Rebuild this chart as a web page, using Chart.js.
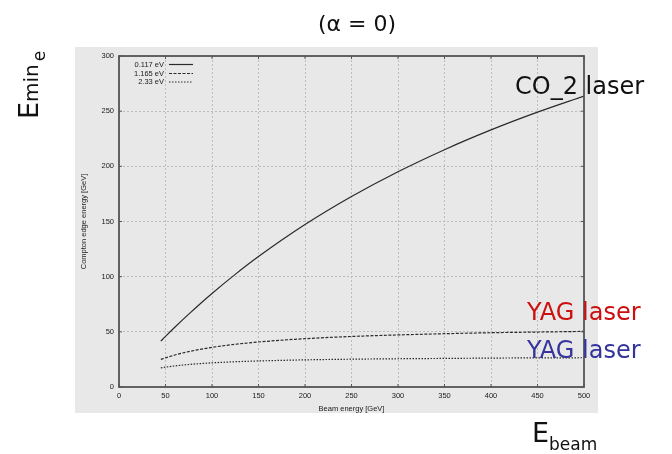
<!DOCTYPE html>
<html>
<head>
<meta charset="utf-8">
<script src="https://cdn.jsdelivr.net/npm/chart.js@4/dist/chart.umd.min.js"></script>
<style>
  body { margin: 0; background: #fff; }
  #wrap { position: relative; width: 672px; height: 454px; overflow: hidden; }
  .note { position: absolute; font-family: "DejaVu Sans", sans-serif; line-height: 1; white-space: nowrap; color: #111; }
  .note span { line-height: 1; }
</style>
</head>
<body>
<div id="wrap">
  <canvas id="chart-edge" width="672" height="454"></canvas>
  <div class="note" style="left:318px;top:13px;font-size:22px;">(α = 0)</div>
  <div class="note" style="left:515px;top:74px;font-size:24px;">CO_2 laser</div>
  <div class="note" style="left:527px;top:300px;font-size:24px;color:#cc1010;">YAG laser</div>
  <div class="note" style="left:527px;top:338px;font-size:24px;color:#34349c;">YAG laser</div>
  <div class="note" style="left:532px;top:419px;font-size:27px;">E<span style="font-size:17px;position:relative;top:8px;">beam</span></div>
  <div class="note" style="left:0;top:0;font-size:27px;transform-origin:0 0;transform:translate(15px,119px) rotate(-90deg);">E<span style="font-size:20px;">min</span><span style="font-size:17px;position:relative;top:7px;margin-left:3px;">e</span></div>
</div>
<script>
// Compton edge (minimum electron energy) vs beam energy, three laser lines

const beamEnergy = [45, 50, 60, 75, 100, 125, 150, 200, 250, 300, 350, 400, 450, 500];
const edge0117 = [41.6, 45.9, 54.2, 66.1, 84.8, 102.1, 118.2, 147.2, 172.6, 195.1, 215.1, 233.0, 249.1, 263.7];
const edge1165 = [25.0, 26.4, 29.0, 32.1, 35.9, 38.7, 40.8, 43.8, 45.8, 47.2, 48.3, 49.2, 49.8, 50.4];
const edge233 = [17.3, 18.0, 19.1, 20.4, 21.9, 22.9, 23.6, 24.6, 25.2, 25.6, 25.9, 26.2, 26.4, 26.5];
const seriesLabels = ['0.117 eV', '1.165 eV', '2.33 eV'];
const xTicks = [0, 50, 100, 150, 200, 250, 300, 350, 400, 450, 500];
const yTicks = [0, 50, 100, 150, 200, 250, 300];

const INK = '#1a1a1a';
const TICK_FONT = { family: '"Liberation Sans", Arial, sans-serif', size: 7.5 };

function toPoints(values) {
  return values.map((v, i) => ({ x: beamEnergy[i], y: v }));
}

// grey panel behind the plot, frame with inward ticks, small legend
const panelPlugin = {
  id: 'panel',
  beforeDraw(chart) {
    const ctx = chart.ctx;
    ctx.save();
    ctx.fillStyle = '#e8e8e8';
    ctx.fillRect(75, 47, 523, 366);
    ctx.restore();
  },
  afterDatasetsDraw(chart) {
    const { ctx, chartArea: a, scales } = chart;
    ctx.save();
    ctx.strokeStyle = '#555';
    ctx.lineWidth = 1.8;
    ctx.strokeRect(a.left, a.top, a.right - a.left, a.bottom - a.top);
    ctx.lineWidth = 1;
    ctx.beginPath();
    xTicks.forEach(t => {
      const px = scales.x.getPixelForValue(t);
      ctx.moveTo(px, a.top); ctx.lineTo(px, a.top + 3);
      ctx.moveTo(px, a.bottom); ctx.lineTo(px, a.bottom - 3);
    });
    yTicks.forEach(t => {
      const py = scales.y.getPixelForValue(t);
      ctx.moveTo(a.left, py); ctx.lineTo(a.left + 3, py);
      ctx.moveTo(a.right, py); ctx.lineTo(a.right - 3, py);
    });
    ctx.stroke();

    // legend rows
    ctx.font = '7.5px "Liberation Sans", Arial, sans-serif';
    ctx.textAlign = 'right';
    ctx.textBaseline = 'middle';
    const rowY = [64.5, 73.5, 82];
    chart.data.datasets.forEach((ds, i) => {
      ctx.fillStyle = INK;
      ctx.fillText(ds.label, 164, rowY[i]);
      ctx.strokeStyle = ds.borderColor;
      ctx.lineWidth = ds.borderWidth;
      ctx.setLineDash(ds.borderDash || []);
      ctx.beginPath();
      ctx.moveTo(169, rowY[i]); ctx.lineTo(193, rowY[i]);
      ctx.stroke();
    });
    ctx.restore();
  }
};

function lineSet(label, values, dash) {
  return {
    label, data: toPoints(values),
    borderColor: '#2a2a2a', borderWidth: 1.2, borderDash: dash,
    pointRadius: 0, fill: false,
    cubicInterpolationMode: 'monotone'
  };
}

new Chart(document.getElementById('chart-edge'), {
  type: 'line',
  data: {
    datasets: [
      lineSet(seriesLabels[0], edge0117, []),
      lineSet(seriesLabels[1], edge1165, [3, 1.5]),
      lineSet(seriesLabels[2], edge233, [1.5, 1.5])
    ]
  },
  options: {
    responsive: false,
    animation: false,
    layout: { padding: { left: 75, right: 88, top: 56, bottom: 41 } },
    plugins: { legend: { display: false }, tooltip: { enabled: false } },
    scales: {
      x: {
        type: 'linear', min: 0, max: 500,
        afterFit: s => { s.height = 26; },
        afterBuildTicks: s => { s.ticks = xTicks.map(v => ({ value: v })); },
        ticks: { color: INK, font: TICK_FONT, padding: 4, maxRotation: 0 },
        grid: { color: '#bcbcbc', lineWidth: 1, drawTicks: false },
        border: { display: false, dash: [2, 2] },
        title: { display: true, text: 'Beam energy [GeV]', color: INK, font: TICK_FONT, padding: { top: 0, bottom: 0 } }
      },
      y: {
        type: 'linear', min: 0, max: 300,
        afterFit: s => { s.width = 44; },
        afterBuildTicks: s => { s.ticks = yTicks.map(v => ({ value: v })); },
        ticks: { color: INK, font: TICK_FONT, padding: 5 },
        grid: { color: '#bcbcbc', lineWidth: 1, drawTicks: false },
        border: { display: false, dash: [2, 2] },
        title: { display: true, text: 'Compton edge energy [GeV]', color: INK, font: TICK_FONT, padding: { top: 4, bottom: 0 } }
      }
    }
  },
  plugins: [panelPlugin]
});
</script>
</body>
</html>
